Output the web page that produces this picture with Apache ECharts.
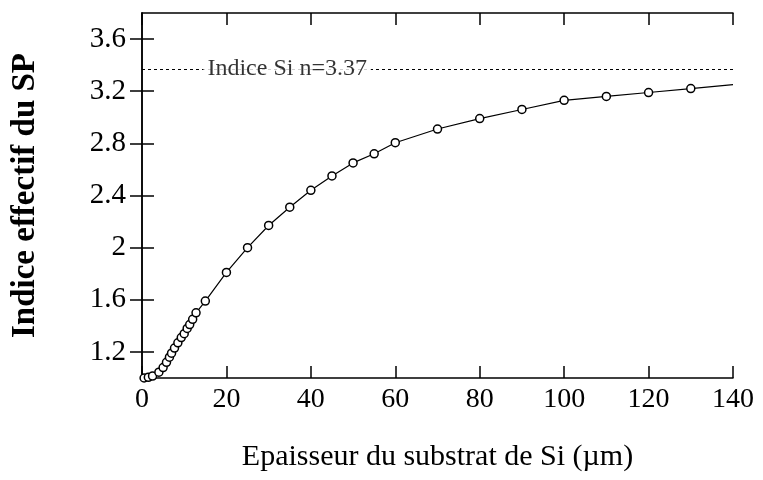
<!DOCTYPE html>
<html>
<head>
<meta charset="utf-8">
<script src="https://cdn.jsdelivr.net/npm/echarts@6/dist/echarts.min.js"></script>
<style>
html, body { margin: 0; padding: 0; background: #fff; }
#chart { width: 763px; height: 480px; }
</style>
</head>
<body>
<div id="chart"></div>
<script>
// epaisseur du substrat (um)
var thickness = [0.5, 1.5, 2.5, 4, 5, 5.8, 6.5, 7, 7.7, 8.5, 9.3, 10, 10.7, 11.3, 12, 12.8,
    15, 20, 25, 30, 35, 40, 45, 50, 55, 60, 70, 80, 90, 100, 110, 120, 130, 140];
// indice effectif du SP
var indexSP = [1.0, 1.005, 1.015, 1.045, 1.08, 1.12, 1.16, 1.19, 1.23, 1.27, 1.31, 1.34, 1.38, 1.41, 1.45, 1.50,
    1.59, 1.81, 2.0, 2.17, 2.31, 2.44, 2.55, 2.65, 2.72, 2.805, 2.91, 2.99, 3.06, 3.13, 3.16, 3.19, 3.22, 3.25];
var xTicks = [0, 20, 40, 60, 80, 100, 120, 140];
var yTicks = [1.2, 1.6, 2, 2.4, 2.8, 3.2, 3.6];
var nSi = 3.37;
var nSiLabel = 'Indice Si n=3.37';
var nSiLabelX = 34.4;

var chart = echarts.init(document.getElementById('chart'));
var serif = 'Liberation Serif';

function buildData() {
    var d = [];
    for (var i = 0; i < thickness.length; i++) {
        var item = { value: [thickness[i], indexSP[i]] };
        // le dernier point sert juste a prolonger la courbe jusqu'au bord
        if (i == thickness.length - 1) {
            item.symbol = 'none';
        }
        d.push(item);
    }
    return d;
}

var axisLine = { show: true, lineStyle: { color: '#000', width: 1.5 } };
var tickStyle = { color: '#000', width: 1.5 };

chart.setOption({
    animation: false,
    backgroundColor: '#fff',
    grid: { left: 142, right: 30, top: 13, bottom: 102, containLabel: false, outerBoundsMode: 'none' },
    xAxis: [{
        type: 'value',
        min: 0,
        max: 140,
        interval: 20,
        position: 'bottom',
        name: 'Epaisseur du substrat de Si (\u00b5m)',
        nameLocation: 'middle',
        nameGap: 64,
        nameTextStyle: { fontFamily: serif, fontSize: 30, color: '#000' },
        axisLine: axisLine,
        axisTick: { show: true, inside: true, length: 12, lineStyle: tickStyle, customValues: xTicks },
        axisLabel: { fontFamily: serif, fontSize: 28, color: '#000', margin: 8, customValues: xTicks },
        splitLine: { show: false }
    }, {
        type: 'value',
        min: 0,
        max: 140,
        interval: 20,
        position: 'top',
        axisLine: axisLine,
        axisTick: { show: true, inside: true, length: 12, lineStyle: tickStyle, customValues: xTicks },
        axisLabel: { show: false },
        splitLine: { show: false }
    }],
    yAxis: [{
        type: 'value',
        min: 1.0,
        max: 3.8,
        position: 'left',
        name: 'Indice effectif du SP',
        nameLocation: 'middle',
        nameGap: 100,
        nameTextStyle: { fontFamily: serif, fontSize: 33, fontWeight: 'bold', color: '#000' },
        axisLine: axisLine,
        axisTick: { show: true, inside: true, length: 12, lineStyle: tickStyle, customValues: yTicks },
        axisLabel: { fontFamily: serif, fontSize: 29, color: '#000', margin: 16, customValues: yTicks },
        splitLine: { show: false }
    }, {
        type: 'value',
        min: 1.0,
        max: 3.8,
        position: 'right',
        axisLine: axisLine,
        axisTick: { show: true, inside: true, length: 12, lineStyle: tickStyle, customValues: yTicks },
        axisLabel: { show: false },
        splitLine: { show: false }
    }],
    series: [{
        name: 'indice',
        type: 'line',
        data: buildData(),
        symbol: 'circle',
        symbolSize: 8,
        showAllSymbol: true,
        lineStyle: { color: '#000', width: 1.2 },
        itemStyle: { color: '#fff', borderColor: '#000', borderWidth: 1.5 },
        markLine: {
            silent: true,
            symbol: 'none',
            lineStyle: { color: '#000', type: [3, 3], width: 1 },
            label: { show: false },
            data: [{ yAxis: nSi }]
        },
        z: 3
    }, {
        name: 'label',
        type: 'scatter',
        data: [[nSiLabelX, nSi]],
        symbolSize: 0,
        silent: true,
        zlevel: 1,
        label: {
            show: true,
            position: 'inside',
            formatter: nSiLabel,
            fontFamily: serif,
            fontSize: 24,
            color: '#000',
            backgroundColor: '#fff',
            padding: [0, 4]
        }
    }]
});
</script>
</body>
</html>
